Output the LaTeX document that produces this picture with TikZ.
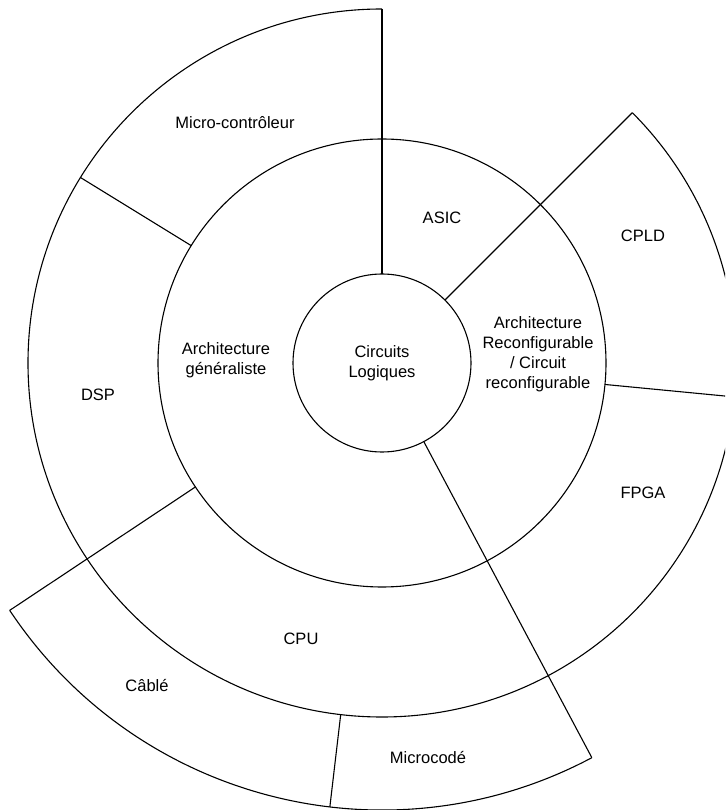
\documentclass[tikz,border=0pt]{standalone}
\usepackage{fontspec}
\setmainfont{Liberation Sans}

\begin{document}
\begin{tikzpicture}[
    x=1pt, y=1pt,
    ring/.style={draw, line width=1.1pt},
    segtext/.style={align=center, font=\fontsize{16.5}{20}\selectfont}
]
\useasboundingbox (-382,-447) rectangle (343,363);
\clip (-382,-447) rectangle (343,363);

% Rings
\draw[ring] (0,0) circle[radius=89];
\draw[ring] (0,0) circle[radius=224];
\draw[ring] (90:354) arc[start angle=90, end angle=405, radius=354];
\draw[ring] (213.6:447) arc[start angle=213.6, end angle=298, radius=447];

% Separators
\foreach \ang/\rin/\rout in {90/89/354, 45/89/354, -5.5/224/354, -62/89/447,
                             148.4/224/354, 213.6/224/447, 263.3/354/447}
    \draw[ring] (\ang:\rin) -- (\ang:\rout);

% Labels
\node[segtext] (logic) at (0,0) {Circuits\\Logiques};
\node[segtext] (asic) at (60,145) {ASIC};
\node[segtext] (reconf) at (156,9) {Architecture\\Reconfigurable\\/ Circuit\\reconfigurable};
\node[segtext] (general) at (-156,3) {Architecture\\généraliste};
\node[segtext] (micro) at (-147,240) {Micro-contrôleur};
\node[segtext] (dsp) at (-284,-32) {DSP};
\node[segtext] (cpu) at (-81,-276) {CPU};
\node[segtext] (cpld) at (261,127) {CPLD};
\node[segtext] (fpga) at (261,-130) {FPGA};
\node[segtext] (cable) at (-235,-323) {Câblé};
\node[segtext] (microcode) at (46,-395) {Microcodé};

\end{tikzpicture}
\end{document}
